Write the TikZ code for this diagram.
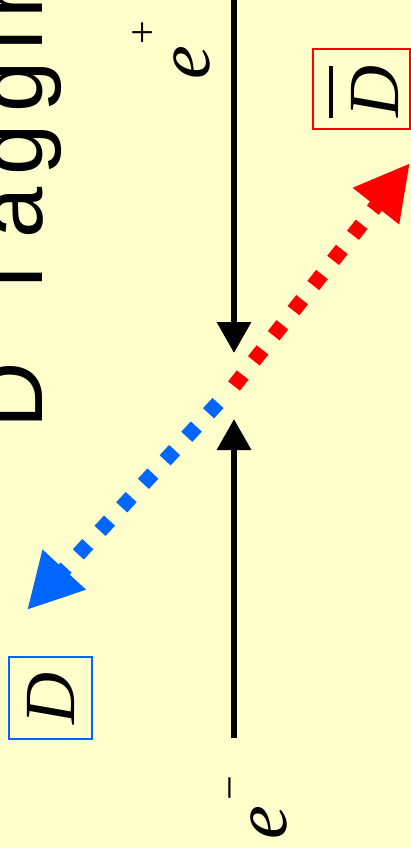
\documentclass[tikz,border=0pt]{standalone}
\usepackage{fontspec}
\setmainfont{Liberation Serif}
\newfontfamily\titlefont{Liberation Sans}
\usetikzlibrary{arrows.meta}
\definecolor{bg}{HTML}{FFFFCC}
\definecolor{dblue}{HTML}{0066FF}
\definecolor{dred}{HTML}{FF0000}
\newcommand\myBarD{\setbox0\hbox{\textit{D}}\rlap{\raisebox{0.90em}{\rule{\wd0}{0.055em}}}\box0}
\newcommand\tk{\kern11.5pt}
\begin{document}
\begin{tikzpicture}[x=1pt,y=-1pt,
  electron/.style={line width=6.5pt,-{Triangle[length=31pt,width=33pt]}},
  mesonline/.style={line width=15pt,dash pattern=on 14pt off 18pt},
  mesontip/.style={-{Triangle[length=55pt,width=55pt]}},
  lbl/.style={rotate=90,inner sep=0pt},
  tagbox/.style={rotate=90,draw,line width=1.8pt,inner sep=0pt}]
\fill[bg] (0,0) rectangle (411,848);
\useasboundingbox (0,0) rectangle (411,848);
\node[lbl,anchor=base west,font=\titlefont\fontsize{92}{92}\selectfont] (title) at (42,429) {D\kern31pt\ T\tk a\tk g\tk g\tk i\tk n\tk g};
\coordinate (eptop) at (234,0);
\coordinate (vtop) at (234,353);
\coordinate (vbot) at (234,419);
\coordinate (embot) at (234,738);
\draw[electron] (eptop) -- (vtop);
\draw[electron] (embot) -- (vbot);
\coordinate (vr) at (234,386);
\coordinate (tipR) at (410,163);
\coordinate (vb) at (218,403);
\coordinate (tipB) at (27,610);
\draw[mesonline,mesontip,dred] (vr) -- (tipR);
\draw[mesonline,mesontip,dblue] (vb) -- (tipB);
\node[tagbox,draw=dred,minimum width=80pt,minimum height=97pt] (Dbar) at (361.5,89) {};
\node[lbl,anchor=base west,font=\fontsize{72}{72}\selectfont] (DbarT) at (398,118) {\myBarD};
\node[tagbox,draw=dblue,minimum width=82pt,minimum height=83pt] (D) at (50.5,698) {\fontsize{72}{72}\selectfont\textit{D}};
\node[lbl,anchor=base west] (ep) at (209,80) {\fontsize{76}{76}\selectfont\textit{e}\kern2pt\raisebox{53pt}{\fontsize{42}{42}\selectfont +}};
\node[lbl,anchor=base west] (em) at (286,840) {\fontsize{76}{76}\selectfont\textit{e}\kern6pt\raisebox{42pt}{\fontsize{44}{44}\selectfont −}};
\end{tikzpicture}
\end{document}
